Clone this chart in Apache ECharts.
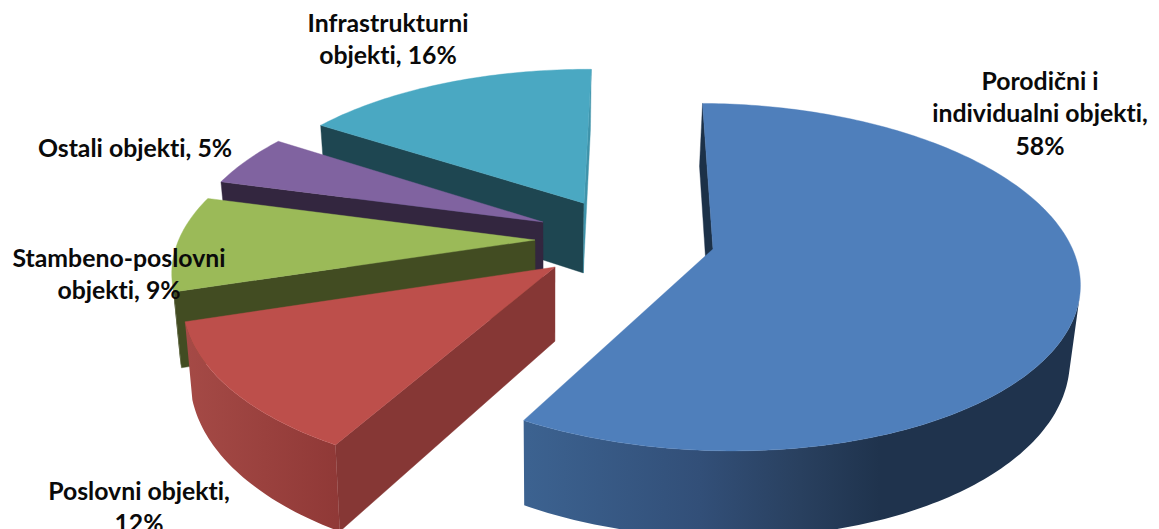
<!DOCTYPE html>
<html>
<head>
<meta charset="utf-8">
<style>html,body{margin:0;padding:0;background:#fff;overflow:hidden}#c{width:1159px;height:529px}#c text{font-variant-ligatures:none !important}</style>
<script src="https://cdn.jsdelivr.net/npm/echarts@6/dist/echarts.min.js"></script>
</head>
<body>
<div id="c"></div>
<script>
// ---- data ----
const categories = ['Porodični i individualni objekti', 'Poslovni objekti', 'Stambeno-poslovni objekti', 'Ostali objekti', 'Infrastrukturni objekti'];
const values = [58, 12, 9, 5, 16];
const labelLines = [
  ['Porodični i', 'individualni objekti,', '58%'],
  ['Poslovni objekti,', '12%'],
  ['Stambeno-poslovni', 'objekti, 9%'],
  ['Ostali objekti, 5%'],
  ['Infrastrukturni', 'objekti, 16%']
];

// ---- layout / style ----
const view = { cx: 611, cy: 236, R: 355, Ry: 165, k: 0.16, h: 72, vx: 551, lean: 0.02, rotate: 0.7 };
const explode = [[0.2837, 0.0778], [-0.153, 0.1825], [-0.2132, 0.0241], [-0.1942, -0.086], [-0.0786, -0.2051]];
const topColors = ['#4f7fbb', '#bd4f4b', '#9bba58', '#8063a0', '#4aa8c2'];
const faceColors = [['#1c3148', '#1c3148'], ['#863735', '#863735'], ['#424c22', '#424c22'], ['#33263f', '#33263f'], ['#1e4651', '#3f93aa']];
const rimStops = [
  [[528, '#3c6290'], [700, '#324f78'], [800, '#29405f'], [880, '#1f334d'], [1080, '#1f334d']],
  [[185, '#a54a46'], [345, '#8f3836']],
  [[175, '#424c22'], [190, '#424c22']],
  [[218, '#33263f'], [272, '#33263f']],
  [[316, '#1e4651'], [588, '#1e4651']]
];
const labelPos = [[1040, 80], [139, 490], [119, 257], [135, 147], [388, 22]];
const lineHeight = 32.5;
const drawOrder = [4, 3, 2, 1, 0];

const total = values.reduce((a, b) => a + b, 0);
const startAngles = [];
values.reduce((acc, v, i) => { startAngles[i] = acc; return acc + v / total * 360; }, view.rotate);

function persp(v) { return 1 / (1 - view.k * v); }
function upperPt(x, v) {
  const p = persp(v);
  return [view.cx + view.R * x * p, view.cy + view.Ry * v * p];
}
function lowerPt(x, v) {
  const t = upperPt(x, v);
  return [t[0] + (view.vx - t[0]) * view.lean, t[1] + view.h * persp(v)];
}
function area(pts) {
  let s = 0;
  pts.forEach((a, i) => { const b = pts[(i + 1) % pts.length]; s += a[0] * b[1] - b[0] * a[1]; });
  return s / 2;
}
function poly(points, fill) {
  return { type: 'polygon', shape: { points }, style: { fill, stroke: fill, lineWidth: 0.4 } };
}

function renderItem(params, api) {
  const i = api.value(0);
  const val = api.value(1);
  const a0 = startAngles[i], a1 = a0 + val / total * 360;
  const ox = explode[i][0], ov = explode[i][1];
  const rim = [];
  for (let a = a0; ; a += 1) {
    const ang = Math.min(a, a1) * Math.PI / 180;
    rim.push([ox + Math.sin(ang), ov - Math.cos(ang)]);
    if (a >= a1) break;
  }
  const children = [];
  // cut faces, only those turned toward the viewer
  const last = rim[rim.length - 1];
  const apexT = upperPt(ox, ov), apexB = lowerPt(ox, ov);
  const sT = upperPt(rim[0][0], rim[0][1]), sB = lowerPt(rim[0][0], rim[0][1]);
  const eT = upperPt(last[0], last[1]), eB = lowerPt(last[0], last[1]);
  const startFace = [apexT, sT, sB, apexB];
  const endFace = [eT, apexT, apexB, eB];
  if (area(startFace) < 0) children.push(poly(startFace, faceColors[i][0]));
  if (area(endFace) < 0) children.push(poly(endFace, faceColors[i][1]));
  // outer wall: consecutive segments turned toward the viewer
  const upper = [], lower = [];
  for (let n = 0; n + 1 < rim.length; n++) {
    const t1 = upperPt(rim[n][0], rim[n][1]), t2 = upperPt(rim[n + 1][0], rim[n + 1][1]);
    const b1 = lowerPt(rim[n][0], rim[n][1]), b2 = lowerPt(rim[n + 1][0], rim[n + 1][1]);
    if (area([t1, t2, b2, b1]) < 0) {
      if (!upper.length) { upper.push(t1); lower.push(b1); }
      upper.push(t2); lower.push(b2);
    }
  }
  if (upper.length) {
    const st = rimStops[i];
    const x0 = st[0][0], x1 = st[st.length - 1][0];
    const grad = new echarts.graphic.LinearGradient(x0, 0, x1, 0,
      st.map(s => ({ offset: (s[0] - x0) / (x1 - x0), color: s[1] })), true);
    const pts = upper.concat(lower.slice().reverse());
    children.push({ type: 'polygon', shape: { points: pts }, style: { fill: grad } });
  }
  // top surface
  const surf = [apexT].concat(rim.map(r => upperPt(r[0], r[1])));
  children.push(poly(surf, topColors[i]));
  return { type: 'group', children };
}

const chart = echarts.init(document.getElementById('c'), null, { renderer: 'svg' });
chart.setOption({
  animation: false,
  backgroundColor: '#ffffff',
  series: [{
    type: 'custom',
    coordinateSystem: 'none',
    silent: true,
    renderItem,
    encode: { value: [1] },
    data: drawOrder.map(i => ({ name: categories[i], value: [i, values[i]] }))
  }],
  graphic: labelLines.flatMap((lines, i) => lines.map((t, n) => ({
    type: 'text',
    z: 100,
    x: labelPos[i][0],
    y: labelPos[i][1] + n * lineHeight,
    style: { text: t, fill: '#0a0a0a', font: 'bold 24.8px Lato', align: 'center', verticalAlign: 'middle' }
  })))
});
</script>
</body>
</html>
